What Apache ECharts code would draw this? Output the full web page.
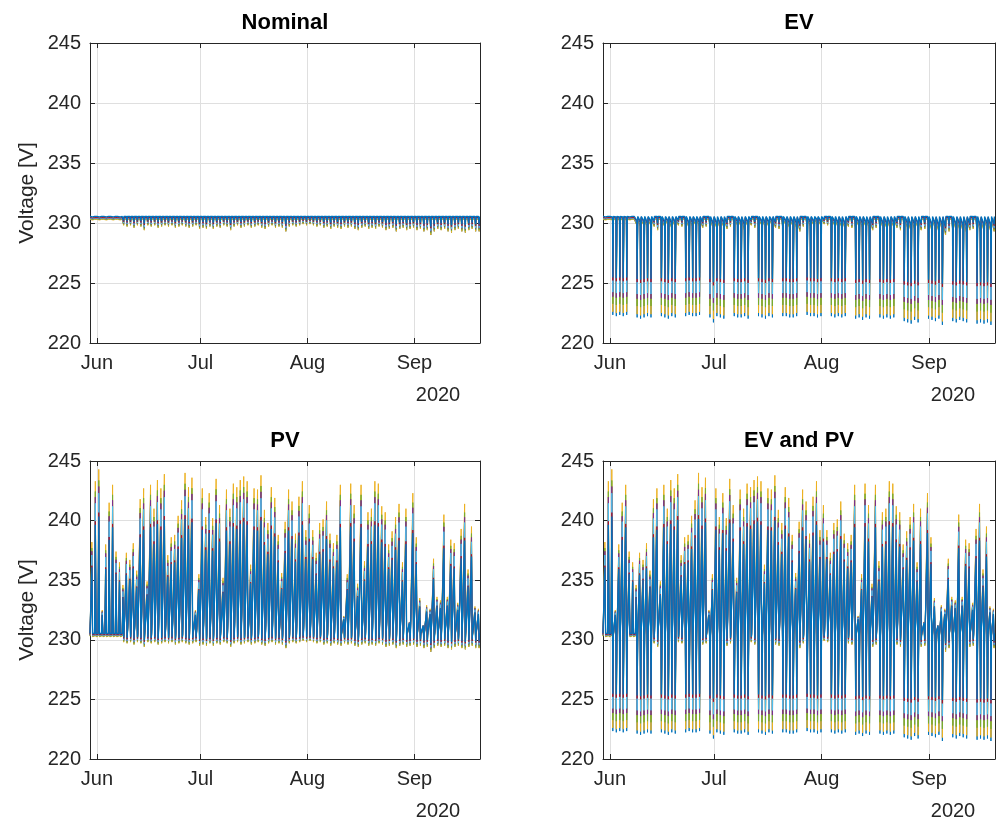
<!DOCTYPE html>
<html>
<head>
<meta charset="utf-8">
<title>Voltage profiles</title>
<script src="https://cdn.jsdelivr.net/npm/echarts@6/dist/echarts.min.js"></script>
<style>
  html, body { margin: 0; padding: 0; background: #ffffff; }
  #chart { width: 997px; height: 821px; }
</style>
</head>
<body>
<div id="chart"></div>
<script>
// ---- Axis definitions ----
const DAY = 86400000;
const HOUR = 3600000;
const startDate = Date.UTC(2020, 4, 30);   // 30 May 2020
const endDate = Date.UTC(2020, 8, 20);     // 20 Sep 2020
const monthTicks = [Date.UTC(2020, 5, 1), Date.UTC(2020, 6, 1), Date.UTC(2020, 7, 1), Date.UTC(2020, 8, 1)];
const monthLabels = ['Jun', 'Jul', 'Aug', 'Sep'];
const yearLabel = '2020';
const voltageMin = 220;
const voltageMax = 245;
const voltageStep = 5;
const panelTitles = ['Nominal', 'EV', 'PV', 'EV and PV'];
const panelHasEV = [false, true, false, true];
const panelHasPV = [false, false, true, true];

// ---- Daily values of the most sensitive node (V), one entry per day from 30 May ----
// midday PV peak
const pvPeak = [
  238.2, 243.3, 244.3, 232.5, 238.0, 241.5, 243.0, 237.4, 236.5, 234.6,
  237.3, 236.7, 238.1, 235.8, 241.8, 242.7, 234.9, 243.0, 241.0, 243.4,
  242.7, 243.9, 237.1, 238.6, 238.8, 240.4, 241.7, 244.0, 242.8, 243.6,
  232.5, 235.5, 242.7, 240.3, 242.3, 240.2, 243.5, 241.3, 235.2, 242.6,
  241.0, 243.1, 242.8, 243.4, 243.7, 243.3, 236.3, 242.7, 242.6, 243.8,
  240.9, 239.8, 242.8, 241.9, 238.8, 235.6, 239.9, 242.6, 241.6, 238.9,
  242.0, 243.3, 239.2, 241.3, 239.2, 237.3, 239.8, 240.1, 241.6, 238.9,
  238.1, 238.8, 243.0, 232.0, 235.5, 243.1, 241.3, 234.7, 243.0, 236.6,
  240.7, 241.0, 243.3, 243.1, 241.2, 240.7, 238.0, 239.1, 240.3, 241.4,
  236.5, 241.0, 231.5, 242.3, 238.6, 233.5, 231.2, 232.9, 232.6, 236.8,
  233.6, 233.3, 240.5, 233.6, 238.4, 238.1, 233.1, 239.3, 241.4, 235.9,
  239.5, 232.8, 232.6
];
// evening household load low
const loadLow = [
  230.25, 230.25, 230.25, 230.25, 230.25, 230.25, 230.25, 230.25, 230.25,
  229.8, 229.7, 229.8, 229.6, 229.8, 229.7, 229.4, 229.8, 229.7, 229.8, 229.6, 229.7,
  229.8, 229.7, 229.8, 229.6, 229.7, 229.8, 229.7, 229.6, 229.7, 229.8,
  229.5, 229.6, 229.5, 229.7, 229.5, 229.7, 229.6, 229.8, 229.7, 229.4,
  229.7, 229.8, 229.6, 229.7, 229.8, 229.6, 229.7, 229.8, 229.6, 229.5,
  229.7, 229.8, 229.6, 229.7, 229.6, 229.3, 229.7, 229.8, 229.7, 229.8,
  229.9, 229.8, 229.9, 229.8, 229.7, 229.8, 229.6, 229.7, 229.5, 229.7,
  229.6, 229.5, 229.7, 229.6, 229.7, 229.5, 229.4, 229.6, 229.7, 229.5,
  229.6, 229.5, 229.7, 229.6, 229.4, 229.5, 229.6, 229.3, 229.5, 229.6,
  229.4, 229.5, 229.6, 229.4, 229.5, 229.3, 229.4, 229.0, 229.3, 229.5,
  229.4, 229.5, 229.3, 229.2, 229.4, 229.5, 229.3, 229.2, 229.4, 229.5,
  229.3, 229.3
];
// evening EV charging low (weekdays only)
const evDip = [
  null, null, 222.6, 222.5, 222.6, 222.5, 222.6,
  null, null, 222.4, 222.3, 222.4, 222.5, 222.4,
  null, null, 222.5, 222.4, 222.3, 222.5, 222.4,
  null, null, 222.5, 222.6, 222.5, 222.5, 222.6,
  null, null, 222.4, 222.0, 222.5, 222.4, 222.3,
  null, null, 222.5, 222.4, 222.4, 222.5, 222.3,
  null, null, 222.5, 222.4, 222.3, 222.5, 222.4,
  null, null, 222.5, 222.5, 222.4, 222.4, 222.5,
  null, null, 222.6, 222.5, 222.5, 222.4, 222.5,
  null, null, 222.5, 222.4, 222.5, 222.4, 222.5,
  null, null, 222.3, 222.4, 222.2, 222.4, 222.3,
  null, null, 222.4, 222.3, 222.4, 222.3, 222.4,
  null, null, 222.1, 222.0, 221.9, 222.2, 222.0,
  null, null, 222.3, 222.2, 222.1, 222.3, 221.8,
  null, null, 222.1, 222.0, 222.2, 222.1, 222.0,
  null, null, 221.9, 222.0, 221.9, 222.0, 221.8,
  null
];
const referenceBase = 230.3;  // night voltage of the most sensitive node

// ---- Feeder nodes, in drawing order ----
const nodeColors = ['#D95319', '#0072BD', '#EDB120', '#77AC30', '#7E2F8E', '#4DBEEE', '#A2142F', '#0072BD'];
const nodeWidths = [1, 1, 1, 1, 1, 1, 1, 1.3];
const nodeBase   = [230.45, 230.35, 230.30, 230.35, 230.40, 230.40, 230.45, 230.55];
const nodePvGain = [0.62, 0.60, 1.00, 0.93, 0.89, 0.85, 0.73, 0.70];
const nodeEvGain = [0.60, 1.04, 1.00, 0.92, 0.85, 0.80, 0.68, 0.66];

// hours of the day at which each daily profile is sampled
const profileHours = [0, 8, 13, 18, 20];

function nodeProfile(n, withEV, withPV) {
  const base = nodeBase[n];
  const pts = [];
  for (let d = 0; d < pvPeak.length; d++) {
    const t = startDate + d * DAY;
    const peak = withPV ? base + nodePvGain[n] * (pvPeak[d] - referenceBase) : base;
    const low = base - nodeEvGain[n] * (referenceBase - loadLow[d]);
    const ev = (withEV && evDip[d] !== null) ? base - nodeEvGain[n] * (referenceBase - evDip[d]) : base;
    const vals = [base, base, peak, low, ev];
    for (let k = 0; k < profileHours.length; k++) {
      pts.push([t + profileHours[k] * HOUR, +vals[k].toFixed(3)]);
    }
  }
  pts.push([endDate, base]);
  return pts;
}

// ---- Layout ----
const FONT = "'Liberation Sans', Arial, Helvetica, sans-serif";
const AX = '#262626';
const GRIDC = '#dfdfdf';
const panels = [
  { left: 90,  top: 43,  width: 390, height: 300 },
  { left: 603, top: 43,  width: 392, height: 300 },
  { left: 90,  top: 461, width: 390, height: 298 },
  { left: 603, top: 461, width: 392, height: 298 }
];

const grids = [], xAxes = [], yAxes = [], series = [], graphics = [];

panels.forEach((p, i) => {
  grids.push({ left: p.left, top: p.top, width: p.width, height: p.height, containLabel: false, show: false });

  const tickStyle = { show: true, inside: true, length: 5, lineStyle: { color: AX, width: 1 } };
  xAxes.push({
    type: 'value', gridIndex: i, min: startDate, max: endDate, position: 'bottom',
    axisLine: { show: true, onZero: false, lineStyle: { color: AX, width: 1 } },
    axisTick: Object.assign({ customValues: monthTicks }, tickStyle),
    axisLabel: {
      customValues: monthTicks, color: AX, fontSize: 20, fontFamily: FONT, margin: 10,
      formatter: v => monthLabels[monthTicks.indexOf(v)] || ''
    },
    splitLine: { show: true, lineStyle: { color: GRIDC, width: 1 } }
  });
  xAxes.push({
    type: 'value', gridIndex: i, min: startDate, max: endDate, position: 'top',
    axisLine: { show: true, onZero: false, lineStyle: { color: AX, width: 1 } },
    axisTick: Object.assign({ customValues: monthTicks }, tickStyle),
    axisLabel: { show: false, customValues: monthTicks },
    splitLine: { show: false }
  });
  yAxes.push({
    type: 'value', gridIndex: i, min: voltageMin, max: voltageMax, interval: voltageStep, position: 'left',
    axisLine: { show: true, onZero: false, lineStyle: { color: AX, width: 1 } },
    axisTick: tickStyle,
    axisLabel: { color: AX, fontSize: 20, fontFamily: FONT, margin: 9 },
    splitLine: { show: true, lineStyle: { color: GRIDC, width: 1 } }
  });
  yAxes.push({
    type: 'value', gridIndex: i, min: voltageMin, max: voltageMax, interval: voltageStep, position: 'right',
    axisLine: { show: true, onZero: false, lineStyle: { color: AX, width: 1 } },
    axisTick: tickStyle,
    axisLabel: { show: false },
    splitLine: { show: false }
  });

  nodeColors.forEach((c, n) => {
    series.push({
      type: 'line', xAxisIndex: 2 * i, yAxisIndex: 2 * i,
      data: nodeProfile(n, panelHasEV[i], panelHasPV[i]),
      showSymbol: false, symbol: 'none', silent: true, animation: false,
      lineStyle: { color: c, width: nodeWidths[n] }, z: 2 + n * 0.01, clip: true
    });
  });

  // panel title
  graphics.push({
    type: 'text', x: p.left + p.width / 2, y: p.top - 20,
    style: { text: panelTitles[i], font: "bold 22px " + FONT, fill: '#000000', align: 'center', verticalAlign: 'middle' }
  });
  // year under the date axis
  graphics.push({
    type: 'text', x: p.left + p.width - 42, y: p.top + p.height + 52,
    style: { text: yearLabel, font: "20px " + FONT, fill: AX, align: 'center', verticalAlign: 'middle' }
  });
  // y-axis name on the left column
  if (p.left < 300) {
    graphics.push({
      type: 'text', x: 27, y: p.top + p.height / 2, rotation: Math.PI / 2,
      style: { text: 'Voltage [V]', font: "21px " + FONT, fill: AX, align: 'center', verticalAlign: 'middle' }
    });
  }
});

const chart = echarts.init(document.getElementById('chart'), null, { renderer: 'canvas', width: 997, height: 821 });
chart.setOption({
  backgroundColor: '#ffffff',
  animation: false,
  grid: grids,
  xAxis: xAxes,
  yAxis: yAxes,
  series: series,
  graphic: graphics
});
</script>
</body>
</html>
